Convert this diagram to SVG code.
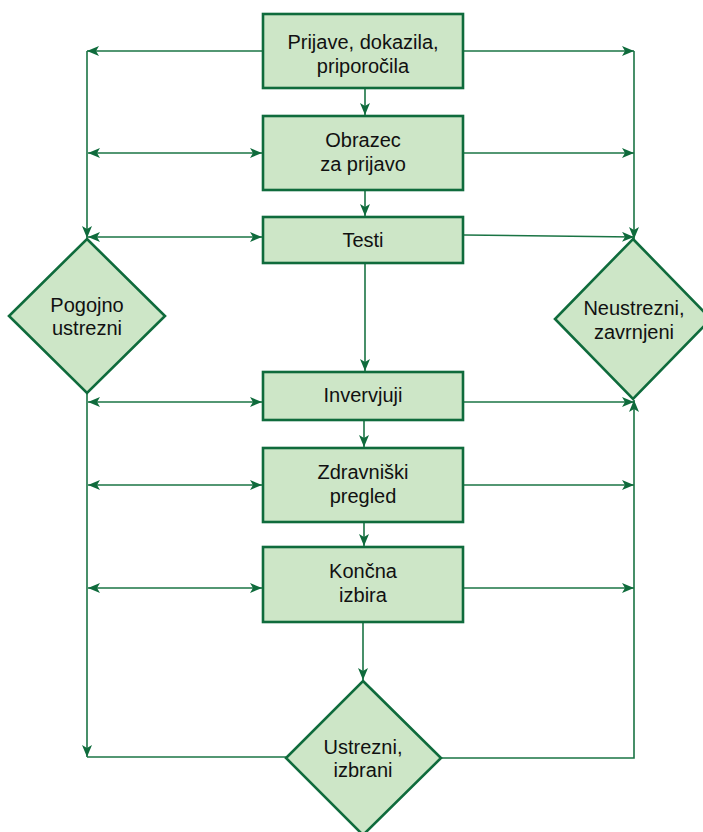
<svg xmlns="http://www.w3.org/2000/svg" width="703" height="832" viewBox="0 0 703 832">
  <style>
    .box { fill: #cde6c7; stroke: #0f6b3c; stroke-width: 2.6; }
    .lbl { font-family: "Liberation Sans", Arial, sans-serif; font-size: 20px; fill: #111; text-anchor: middle; }
    .link { fill: none; stroke: #1a7444; stroke-width: 1.6; }
    .end { marker-end: url(#arrow); }
    .both { marker-start: url(#arrow); marker-end: url(#arrow); }
  </style>
  <defs>
    <marker id="arrow" viewBox="0 0 12 10" refX="12" refY="5" markerWidth="12" markerHeight="10" markerUnits="userSpaceOnUse" orient="auto-start-reverse">
      <path d="M0,0 L12,5 L0,10 L3,5 Z" fill="#0f6b3c"/>
    </marker>
  </defs>

  <!-- connectors -->
  <g id="connectors">
    <!-- main vertical flow -->
    <line class="link end" x1="365" y1="88" x2="365" y2="115"/>
    <line class="link end" x1="365" y1="190" x2="365" y2="216"/>
    <line class="link end" x1="365" y1="263" x2="365" y2="371"/>
    <line class="link end" x1="364" y1="420" x2="364" y2="447"/>
    <line class="link end" x1="364" y1="522" x2="364" y2="546"/>
    <line class="link end" x1="363" y1="622" x2="363" y2="680"/>

    <!-- left side rail -->
    <line class="link end" x1="263" y1="51" x2="87" y2="51"/>
    <line class="link end" x1="87" y1="51" x2="87" y2="238"/>
    <line class="link both" x1="88" y1="153" x2="262" y2="153"/>
    <line class="link both" x1="88" y1="237" x2="262" y2="237"/>
    <line class="link end" x1="87" y1="393" x2="87" y2="757"/>
    <line class="link" x1="87" y1="757" x2="286" y2="757"/>
    <line class="link both" x1="88" y1="402" x2="262" y2="402"/>
    <line class="link both" x1="88" y1="485" x2="262" y2="485"/>
    <line class="link both" x1="88" y1="588" x2="262" y2="588"/>

    <!-- right side rail -->
    <line class="link end" x1="464" y1="51" x2="634" y2="51"/>
    <line class="link end" x1="634" y1="51" x2="634" y2="239"/>
    <line class="link end" x1="464" y1="153" x2="634" y2="153"/>
    <line class="link end" x1="464" y1="235" x2="634" y2="237"/>
    <line class="link end" x1="464" y1="402" x2="634" y2="402"/>
    <line class="link end" x1="464" y1="485" x2="634" y2="485"/>
    <line class="link end" x1="464" y1="588" x2="634" y2="588"/>
    <polyline class="link end" points="441,758 634,758 634,400"/>
  </g>

  <!-- process steps -->
  <g id="prijave">
    <rect class="box" x="263" y="14" width="200" height="74"/>
    <text class="lbl" x="363" y="49">Prijave, dokazila,</text>
    <text class="lbl" x="363" y="73">priporočila</text>
  </g>
  <g id="obrazec">
    <rect class="box" x="263" y="116" width="200" height="74"/>
    <text class="lbl" x="363" y="147">Obrazec</text>
    <text class="lbl" x="363" y="171">za prijavo</text>
  </g>
  <g id="testi">
    <rect class="box" x="263" y="217" width="200" height="46"/>
    <text class="lbl" x="363" y="247">Testi</text>
  </g>
  <g id="intervjuji">
    <rect class="box" x="263" y="372" width="200" height="48"/>
    <text class="lbl" x="363" y="402">Invervjuji</text>
  </g>
  <g id="zdravniski">
    <rect class="box" x="263" y="448" width="200" height="74"/>
    <text class="lbl" x="363" y="479">Zdravniški</text>
    <text class="lbl" x="363" y="503">pregled</text>
  </g>
  <g id="koncna">
    <rect class="box" x="263" y="547" width="200" height="75"/>
    <text class="lbl" x="363" y="578">Končna</text>
    <text class="lbl" x="363" y="602">izbira</text>
  </g>

  <!-- outcomes -->
  <g id="pogojno">
    <polygon class="box" points="87,239 165,316 87,393 9,316"/>
    <text class="lbl" x="87" y="312">Pogojno</text>
    <text class="lbl" x="87" y="335">ustrezni</text>
  </g>
  <g id="neustrezni">
    <polygon class="box" points="633,239 711,319 633,399 555,319"/>
    <text class="lbl" x="634" y="315">Neustrezni,</text>
    <text class="lbl" x="634" y="339">zavrnjeni</text>
  </g>
  <g id="ustrezni">
    <polygon class="box" points="363,681 441,758 363,835 286,758"/>
    <text class="lbl" x="363" y="754">Ustrezni,</text>
    <text class="lbl" x="363" y="777">izbrani</text>
  </g>
</svg>
